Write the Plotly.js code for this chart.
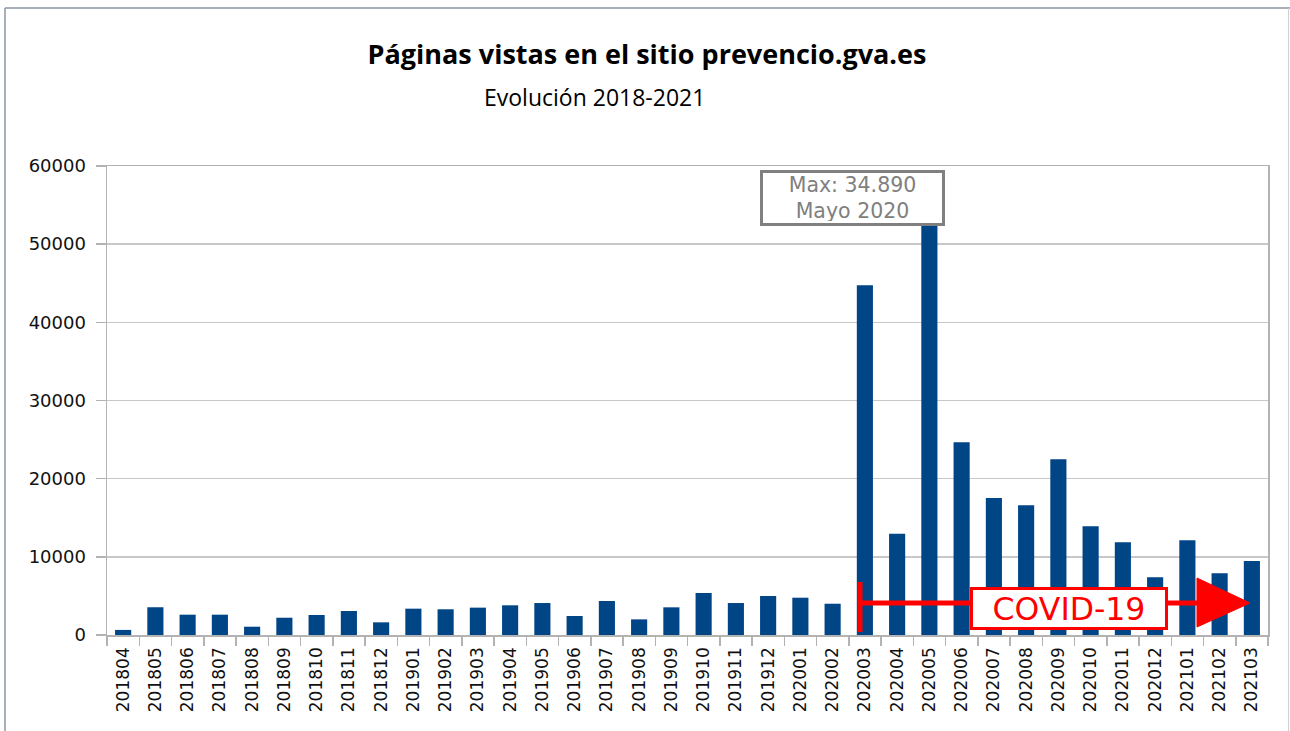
<!DOCTYPE html>
<html>
<head>
<meta charset="utf-8">
<script src="https://cdn.plot.ly/plotly-3.0.1.min.js"></script>
<style>html,body{margin:0;padding:0;background:#fff;}</style>
</head>
<body>
<div id="chart" style="width:1290px;height:731px;"></div>
<script>
const months = ["201804","201805","201806","201807","201808","201809","201810","201811","201812",
  "201901","201902","201903","201904","201905","201906","201907","201908","201909","201910","201911","201912",
  "202001","202002","202003","202004","202005","202006","202007","202008","202009","202010","202011","202012",
  "202101","202102","202103"];
const views = [650,3550,2600,2600,1060,2210,2560,3070,1620,
  3370,3290,3500,3800,4090,2430,4350,2000,3540,5370,4090,4990,
  4770,4000,44740,12960,55000,24650,17530,16590,22470,13900,11860,7380,
  12110,7890,9470];
const titleText = "Páginas vistas en el sitio prevencio.gva.es";
const subtitleText = "Evolución 2018-2021";
const maxLabel = "Max: 34.890<br>Mayo 2020";
const covidLabel = "COVID-19";

const W = 1290, H = 731;
const M = {l:107, r:22, t:166, b:96};
const PW = W - M.l - M.r, PH = H - M.t - M.b;
const px = x => (x - M.l) / PW;
const py = y => (H - M.b - y) / PH;
const red = "#ff0000";

const trace = {
  type: "bar", x: months, y: views,
  marker: {color: "#004586"},
  hoverinfo: "x+y"
};

const layout = {
  width: W, height: H,
  margin: M,
  paper_bgcolor: "#fff", plot_bgcolor: "#fff",
  showlegend: false,
  bargap: 0.5,
  title: {
    text: "<b>" + titleText + "</b>",
    font: {family: "Open Sans", size: 27, color: "#000"},
    xref: "container", x: 647 / W, xanchor: "center",
    yref: "container", y: 1 - 55 / H, yanchor: "middle"
  },
  xaxis: {
    type: "category",
    tickangle: -90,
    tickfont: {family: "DejaVu Sans", size: 17, color: "#111"},
    showline: true, linecolor: "#b3b3b3", linewidth: 1.5, mirror: true,
    ticks: "outside", ticklen: 9, tickcolor: "#b3b3b3", tickwidth: 1.5,
    tickson: "boundaries", ticklabelstandoff: 4,
    showgrid: false
  },
  yaxis: {
    range: [0, 60000], dtick: 10000, tickformat: "d",
    tickfont: {family: "DejaVu Sans", size: 18, color: "#111"},
    showline: true, linecolor: "#b3b3b3", linewidth: 1.5, mirror: true,
    ticks: "outside", ticklen: 10, tickcolor: "#b3b3b3", tickwidth: 1.5,
    ticklabelstandoff: 6,
    gridcolor: "#c8c8c8", gridwidth: 1.5,
    zeroline: false
  },
  shapes: [
    {type: "line", xref: "paper", yref: "paper", x0: px(5), x1: px(1290), y0: py(8), y1: py(8),
     line: {color: "#8a96a3", width: 1.5}},
    {type: "line", xref: "paper", yref: "paper", x0: px(5), x1: px(5), y0: py(8), y1: py(731),
     line: {color: "#8a96a3", width: 1.5}},
    {type: "line", xref: "paper", yref: "paper", x0: px(1288.5), x1: px(1288.5), y0: py(8), y1: py(731),
     line: {color: "#d0d0d0", width: 1}},
    {type: "line", xref: "paper", yref: "paper", x0: px(860), x1: px(860), y0: py(582), y1: py(632),
     line: {color: red, width: 5}},
    {type: "line", xref: "paper", yref: "paper", x0: px(858), x1: px(1205), y0: py(603), y1: py(603),
     line: {color: red, width: 5}},
    {type: "path", xref: "paper", yref: "paper",
     path: "M " + px(1197) + "," + py(578) + " L " + px(1250) + "," + py(603) + " L " + px(1197) + "," + py(627) + " Z",
     fillcolor: red, line: {color: red, width: 1}}
  ],
  annotations: [
    {text: subtitleText, xref: "paper", yref: "paper", x: px(594), y: py(97),
     xanchor: "center", yanchor: "middle", showarrow: false,
     font: {family: "Open Sans", size: 23, color: "#000"}},
    {text: maxLabel, xref: "paper", yref: "paper", x: px(852.5), y: py(198),
     xanchor: "center", yanchor: "middle", showarrow: false,
     width: 175, height: 46, bgcolor: "#fff", bordercolor: "#808080", borderwidth: 3, borderpad: 2,
     font: {family: "DejaVu Sans", size: 20.5, color: "#808080"}},
    {text: covidLabel, xref: "paper", yref: "paper", x: px(1069), y: py(608.5),
     xanchor: "center", yanchor: "middle", showarrow: false,
     width: 188, height: 33, bgcolor: "#fff", bordercolor: red, borderwidth: 3, borderpad: 2,
     font: {family: "DejaVu Sans", size: 31.5, color: red}}
  ]
};

Plotly.newPlot("chart", [trace], layout, {displayModeBar: false, staticPlot: true});
</script>
</body>
</html>
